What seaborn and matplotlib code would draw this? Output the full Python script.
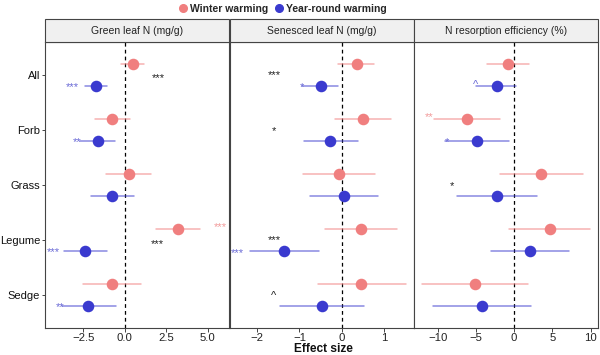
import numpy as np
import pandas as pd
import matplotlib
matplotlib.use("Agg")
import matplotlib.pyplot as plt
from matplotlib.patches import Rectangle
from matplotlib.lines import Line2D
import seaborn as sns

sns.set_style("white")
plt.rcParams['font.family'] = ['Liberation Sans', 'DejaVu Sans']

categories = ["All", "Forb", "Grass", "Legume", "Sedge"]
treatments = ["Winter warming", "Year-round warming"]
panels = ["Green leaf N (mg/g)", "Senesced leaf N (mg/g)", "N resorption efficiency (%)"]

# estimates, lower and upper CI per panel: [winter list], [year-round list] in category order
green_est_w = [0.46, -0.78, 0.22, 3.21, -0.78]
green_lo_w = [-0.24, -1.81, -1.14, 1.87, -2.50]
green_hi_w = [1.14, 0.30, 1.60, 4.56, 0.95]
green_est_y = [-1.75, -1.65, -0.76, -2.39, -2.21]
green_lo_y = [-2.41, -2.70, -2.07, -3.67, -3.78]
green_hi_y = [-1.07, -0.60, 0.54, -1.10, -0.56]

sen_est_w = [0.35, 0.49, -0.06, 0.44, 0.46]
sen_lo_w = [-0.09, -0.17, -0.91, -0.40, -0.56]
sen_hi_w = [0.76, 1.16, 0.79, 1.29, 1.52]
sen_est_y = [-0.50, -0.27, 0.05, -1.37, -0.48]
sen_lo_y = [-0.94, -0.89, -0.74, -2.17, -1.46]
sen_hi_y = [-0.10, 0.37, 0.86, -0.54, 0.53]

nre_est_w = [-0.83, -6.16, 3.50, 4.63, -5.11]
nre_lo_w = [-3.58, -10.50, -1.87, -0.73, -12.06]
nre_hi_w = [1.97, -1.83, 8.96, 9.96, 1.80]
nre_est_y = [-2.31, -4.85, -2.27, 2.10, -4.19]
nre_lo_y = [-4.98, -8.99, -7.42, -3.05, -10.60]
nre_hi_y = [0.26, -0.73, 2.93, 7.13, 2.23]

# significance labels: panel, text, colour key, x, y-position in category units
sig_panel = [0, 0, 0, 0, 0, 0, 0, 1, 1, 1, 1, 1, 1, 2, 2, 2, 2]
sig_text = ["***", "***", "**", "***", "***", "***", "**",
            "***", "*", "*", "***", "***", "^",
            "^", "**", "*", "*"]
sig_col = ["k", "y", "y", "w", "k", "y", "y",
           "k", "y", "k", "k", "y", "k",
           "y", "w", "y", "k"]
sig_x = [2.0, -3.15, -2.9, 5.78, 1.94, -4.3, -3.9,
         -1.6, -0.93, -1.6, -1.6, -2.46, -1.6,
         -5.0, -11.1, -8.8, -8.2]
sig_y = [0.0, 0.156, 1.17, 2.71, 3.02, 3.17, 4.17,
         -0.05, 0.156, 0.97, 2.94, 3.18, 3.97,
         0.13, 0.71, 1.16, 1.96]

xticks = [[-2.5, 0.0, 2.5, 5.0], [-2, -1, 0, 1], [-10, -5, 0, 5, 10]]
xticklabels = [["\u22122.5", "0.0", "2.5", "5.0"], ["\u22122", "\u22121", "0", "1"],
               ["\u221210", "\u22125", "0", "5", "10"]]
xlims = [(-4.82, 6.28), (-2.65, 1.69), (-13.1, 10.96)]

pink = "#F07F7F"
blue = "#3A3ACF"
palette = {"Winter warming": pink, "Year-round warming": blue}
sigcolors = {"k": "#222222", "w": "#F29A9A", "y": "#6A6AD6"}

panel_data = [
    (green_est_w, green_lo_w, green_hi_w, green_est_y, green_lo_y, green_hi_y),
    (sen_est_w, sen_lo_w, sen_hi_w, sen_est_y, sen_lo_y, sen_hi_y),
    (nre_est_w, nre_lo_w, nre_hi_w, nre_est_y, nre_lo_y, nre_hi_y),
]

fig = plt.figure(figsize=(6, 3.55), dpi=100)
W, H = 600.0, 355.0
ax_lefts = [45, 229.5, 414]
ax_w = 184
ax_bottom = 327.5
ax_top = 42
strip_h = 23
ph = ax_bottom - ax_top

for p in range(3):
    ax = fig.add_axes([ax_lefts[p] / W, 1 - ax_bottom / H, ax_w / W, ph / H])
    ew, lw, hw, ey, ly, hy = panel_data[p]
    rows = []
    for i, c in enumerate(categories):
        for v in (lw[i], ew[i], hw[i]):
            rows.append((c, treatments[0], v))
        for v in (ly[i], ey[i], hy[i]):
            rows.append((c, treatments[1], v))
    df = pd.DataFrame(rows, columns=["cat", "trt", "val"])
    sns.pointplot(data=df, x="val", y="cat", hue="trt", order=categories,
                  hue_order=treatments, palette=palette,
                  estimator=np.median, errorbar=lambda v: (v.min(), v.max()),
                  dodge=0.4, linestyle="none", markersize=6.3,
                  err_kws={"linewidth": 1.1, "alpha": 0.6},
                  legend=False, ax=ax, zorder=3)
    ax.axvline(0, color="black", linestyle=(0, (3, 2.5)), linewidth=0.9, zorder=1)
    ax.set_xlim(*xlims[p])
    ax.set_ylim(4.6, -0.6)
    ax.set_xticks(xticks[p])
    ax.set_xticklabels(xticklabels[p])
    ax.set_xlabel("")
    ax.set_ylabel("")
    ax.tick_params(axis="x", length=3, width=0.7, color="#444444", labelsize=8.2,
                   labelcolor="#222222", pad=1, bottom=True)
    if p == 0:
        ax.tick_params(axis="y", length=2.5, width=0.7, color="#444444", labelsize=8.0,
                       labelcolor="#111111", pad=1, left=True)
    else:
        ax.tick_params(axis="y", left=False, labelleft=False)
    for s in ax.spines.values():
        s.set_visible(True)
        s.set_color("#444444")
        s.set_linewidth(0.8)
    # strip
    ax.add_patch(Rectangle((0, 1), 1, strip_h / ph, transform=ax.transAxes,
                           facecolor="#F0F0F0", edgecolor="#444444", linewidth=0.8,
                           clip_on=False, zorder=5))
    ax.text(0.5, 1 + strip_h / 2 / ph, panels[p], transform=ax.transAxes,
            ha="center", va="center", fontsize=7.5, color="#222222", zorder=6)
    # significance labels
    for k in range(len(sig_text)):
        if sig_panel[k] != p:
            continue
        ax.text(sig_x[k], sig_y[k] + 0.115, sig_text[k], ha="center", va="baseline",
                fontsize=8, color=sigcolors[sig_col[k]], zorder=4)

fig.text(323 / W, 1 - 349.5 / H, "Effect size", ha="center", va="center",
         fontsize=8.6, fontweight="bold", color="#111111")

handles = [Line2D([], [], linestyle="none", marker="o", markersize=5.5, color=pink),
           Line2D([], [], linestyle="none", marker="o", markersize=5.5, color=blue)]
leg = fig.legend(handles, treatments, loc="center", bbox_to_anchor=(283 / W, 1 - 9 / H),
                 ncol=2, frameon=False, handlelength=0.8, handletextpad=0.3,
                 columnspacing=0.6, borderpad=0.1, prop={"size": 7.5, "weight": "bold"})

fig.savefig("out.png", dpi=100)
